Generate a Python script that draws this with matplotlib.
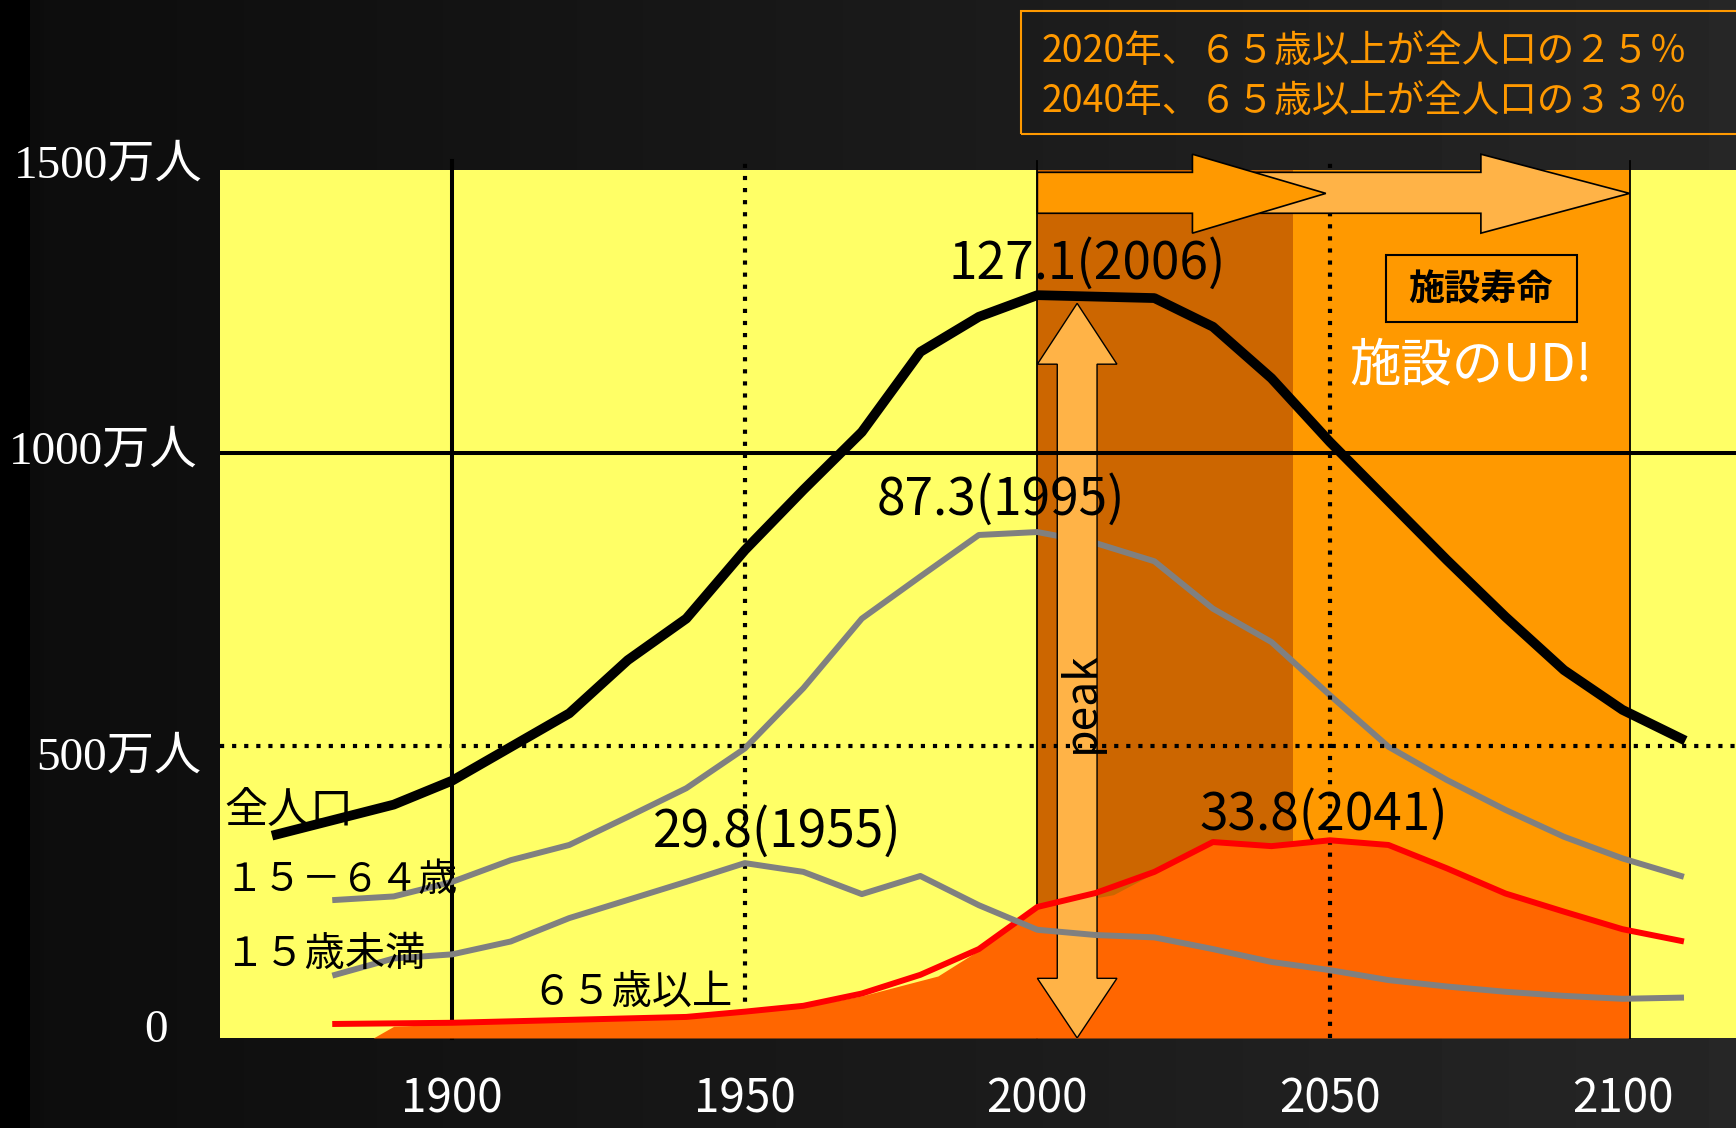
import numpy as np
import matplotlib.pyplot as plt
from matplotlib.patches import Polygon, Rectangle

# =========================
# data (単位: 百万人)
# =========================
years_total = [1870, 1890, 1900, 1920, 1930, 1940, 1950, 1960, 1970, 1980, 1990, 2000,
               2020, 2030, 2040, 2050, 2060, 2070, 2080, 2090, 2100, 2110]
pop_total = [34.8, 39.9, 44.0, 55.5, 64.6, 71.7, 83.4, 93.7, 103.6, 117.3, 123.3, 127.0,
             126.5, 121.6, 112.8, 101.9, 91.8, 81.7, 72.0, 62.9, 56.1, 51.2]

years_1564 = [1880, 1890, 1900, 1910, 1920, 1930, 1940, 1950, 1960, 1970, 1980, 1990,
              2000, 2010, 2020, 2030, 2040, 2050, 2060, 2070, 2080, 2090, 2100, 2110]
pop_1564 = [23.6, 24.2, 26.7, 30.4, 33.0, 37.8, 42.7, 49.5, 59.8, 71.7, 78.9, 86.0,
            86.5, 84.6, 81.5, 73.4, 67.7, 58.6, 49.8, 44.1, 39.0, 34.4, 30.7, 27.7]

years_u15 = [1880, 1890, 1900, 1910, 1920, 1930, 1940, 1950, 1960, 1970, 1980, 1990,
             2000, 2010, 2020, 2030, 2040, 2050, 2060, 2070, 2080, 2090, 2100, 2110]
pop_u15 = [10.8, 13.6, 14.3, 16.5, 20.5, 23.6, 26.7, 29.9, 28.4, 24.6, 27.7, 22.7,
           18.5, 17.6, 17.2, 15.2, 13.0, 11.6, 9.9, 8.8, 7.9, 7.2, 6.7, 6.9]

years_65 = [1880, 1900, 1920, 1940, 1950, 1960, 1970, 1980, 1990, 2000, 2010,
            2020, 2030, 2040, 2050, 2060, 2070, 2080, 2090, 2100, 2110]
pop_65 = [2.4, 2.6, 3.1, 3.6, 4.5, 5.5, 7.6, 10.8, 15.2, 22.4, 24.8,
          28.4, 33.5, 32.8, 33.8, 33.0, 29.0, 24.7, 21.6, 18.6, 16.6]

# 65歳以上の塗りつぶし
fill_years = [1886.5, 1890, 1900, 1920, 1940, 1950, 1960, 1970, 1983, 1990, 2000,
              2013, 2020, 2030, 2040, 2050, 2060, 2070, 2080, 2090, 2101]
fill_vals = [0, 2.0, 2.4, 2.9, 3.4, 4.3, 5.3, 7.2, 10.6, 15.0, 22.2,
             24.5, 28.2, 33.3, 32.6, 33.6, 32.8, 28.8, 24.6, 21.5, 18.5]

x_ticks = [1900, 1950, 2000, 2050, 2100]
y_labels = ['0', '500万人', '1000万人', '1500万人']

JP = ['Noto Sans CJK JP', 'DejaVu Sans']
SERIF = ['Liberation Serif', 'Noto Sans CJK JP']

YELLOW = '#FFFF66'
DARK_OR = '#CC6600'
ORANGE = '#FF9900'
LIGHT_OR = '#FFB347'
FILL_OR = '#FF6600'
DOT = (0, (1, 1.9))

fig = plt.figure(figsize=(17.36, 11.28), dpi=100)

# 背景グラデーション
bg = fig.add_axes([0, 0, 1, 1], zorder=-10)
grad = np.concatenate([np.zeros(30), np.linspace(0.05, 0.15, 1706)])
bg.imshow(np.tile(grad, (10, 1)), cmap='gray', vmin=0, vmax=1,
          aspect='auto', extent=[0, 1, 0, 1])
bg.axis('off')

ax = fig.add_axes([0.1267, 0.0798, 0.8733, 0.7695])
ax.set_facecolor(YELLOW)
ax.set_xlim(1860.3, 2119.4)
ax.set_ylim(0, 148.4)
ax.set_xticks([])
ax.set_yticks([])
for s in ax.spines.values():
    s.set_visible(False)

# 施設寿命の期間
ax.axvspan(2000, 2043.7, color=DARK_OR, zorder=1, lw=0)
ax.axvspan(2043.7, 2101.2, color=ORANGE, zorder=1, lw=0)
for xe in (2000, 2101.2):
    ax.plot([xe, xe], [0, 150], color='black', lw=1.3, zorder=2, clip_on=False)

# grid
ax.plot([1900, 1900], [0, 150], color='black', lw=2.9, zorder=2, clip_on=False)
ax.plot([1950, 1950], [0, 150], color='black', lw=3, ls=DOT, zorder=2, clip_on=False)
ax.plot([2050, 2050], [0, 150], color='black', lw=3, ls=DOT, zorder=6.5, clip_on=False)
ax.axhline(100, color='black', lw=2.9, zorder=6)
ax.axhline(50, color='black', lw=3, ls=DOT, zorder=6)

# series
ax.fill_between(fill_years, fill_vals, 0, color=FILL_OR, lw=0, zorder=3)
ax.plot(years_1564, pop_1564, color='#808080', lw=4.3, zorder=4)

# peak arrow
xc, sw, hw = 2006.8, 3.4, 6.8
peak_arrow = [(xc, 125.6), (xc + hw, 115.2), (xc + sw, 115.2), (xc + sw, 10.2),
              (xc + hw, 10.2), (xc, 0), (xc - hw, 10.2), (xc - sw, 10.2),
              (xc - sw, 115.2), (xc - hw, 115.2)]
ax.add_patch(Polygon(peak_arrow, closed=True, facecolor=LIGHT_OR, edgecolor='black',
                     lw=1, zorder=5))
ax.text(2007.4, 57.4, 'peak', rotation=90, ha='center', va='center', fontsize=32,
        family=JP, zorder=10)

ax.plot(years_65, pop_65, color='#FF0000', lw=4.3, zorder=7)
ax.plot(years_u15, pop_u15, color='#808080', lw=4.3, zorder=7.5)
ax.plot(years_total, pop_total, color='black', lw=7, zorder=8)


# 上部の矢印
def block_arrow(x0, xh, x1, color, z):
    verts = [(x0, 141.0), (xh, 141.0), (xh, 137.6), (x1, 144.4),
             (xh, 151.1), (xh, 148.0), (x0, 148.0)]
    ax.add_patch(Polygon(verts, closed=True, facecolor=color, edgecolor='black',
                         lw=1.2, zorder=z, clip_on=False))


block_arrow(2036, 2075.8, 2101.2, LIGHT_OR, 9)
block_arrow(2000, 2026.5, 2049.3, ORANGE, 9.5)

# 注記
ax.text(2008.6, 132.3, '127.1(2006)', ha='center', va='center', fontsize=37, family=JP, zorder=10)
ax.text(1993.8, 92.0, '87.3(1995)', ha='center', va='center', fontsize=37, family=JP, zorder=10)
ax.text(1955.6, 35.2, '29.8(1955)', ha='center', va='center', fontsize=37, family=JP, zorder=10)
ax.text(2049.0, 38.1, '33.8(2041)', ha='center', va='center', fontsize=37, family=JP, zorder=10)

ax.text(1861.0, 38.6, '全人口', ha='left', va='center', fontsize=31, family=JP, zorder=10)
ax.text(1861.0, 27.0, '１５－６４歳', ha='left', va='center', fontsize=28, family=JP, zorder=10)
ax.text(1861.0, 14.2, '１５歳未満', ha='left', va='center', fontsize=29, family=JP, zorder=10)
ax.text(1913.6, 7.7, '６５歳以上', ha='left', va='center', fontsize=29, family=JP, zorder=10)

ax.add_patch(Rectangle((2059.5, 122.4), 32.7, 11.4, facecolor='none', edgecolor='black',
                       lw=1.5, zorder=10))
ax.text(2075.8, 127.9, '施設寿命', ha='center', va='center', fontsize=26, weight='bold',
        family=JP, zorder=11)
ax.text(2074.1, 114.9, '施設のUD!', ha='center', va='center', fontsize=37, color='white',
        family=JP, zorder=11)

# 軸ラベル
for xt in x_ticks:
    ax.text(xt, -0.0862, str(xt), transform=ax.get_xaxis_transform(), ha='center',
            va='baseline', fontsize=33, color='white', family=JP, clip_on=False)

fig.text(0.0899, 0.086, y_labels[0], ha='center', va='center', fontsize=34, color='white', family=SERIF)
fig.text(0.1158, 0.328, y_labels[1], ha='right', va='center', fontsize=34, color='white', family=SERIF)
fig.text(0.1135, 0.5993, y_labels[2], ha='right', va='center', fontsize=34, color='white', family=SERIF)
fig.text(0.1169, 0.8528, y_labels[3], ha='right', va='center', fontsize=34, color='white', family=SERIF)

# 上部の説明ボックス
fig.patches.append(Rectangle((0.5881, 0.8812), 0.45, 0.109, transform=fig.transFigure,
                             facecolor='none', edgecolor=ORANGE, lw=1.5))
fig.text(0.6002, 0.9548, '2020年、６５歳以上が全人口の２５％', ha='left', va='center',
         fontsize=27, color=ORANGE, family=JP)
fig.text(0.6002, 0.9105, '2040年、６５歳以上が全人口の３３％', ha='left', va='center',
         fontsize=27, color=ORANGE, family=JP)

fig.savefig('out.png', dpi=100)
